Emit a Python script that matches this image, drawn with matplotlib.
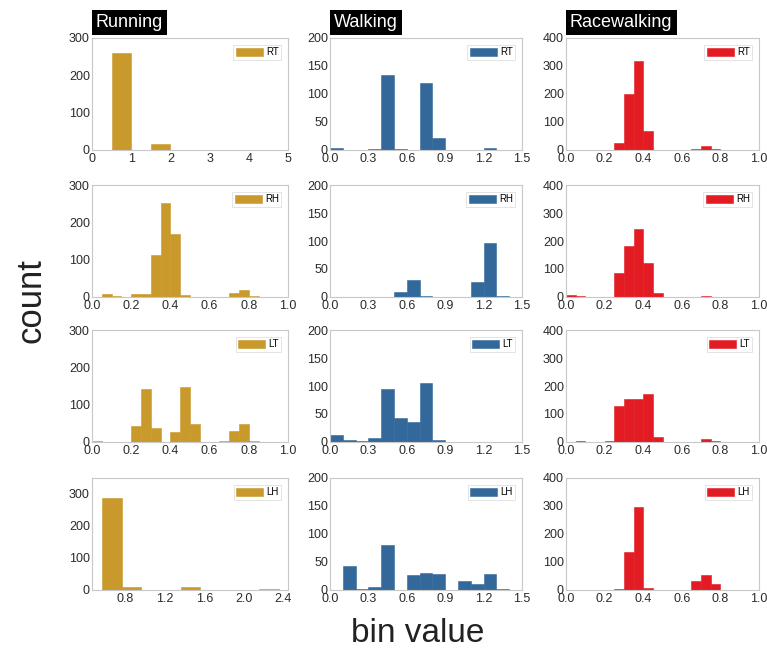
import matplotlib.pyplot as plt
import numpy as np

plt.rcParams['font.family'] = ['Liberation Sans', 'DejaVu Sans']

spine_color = '#c8c8c8'
tick_label_color = '#2b2b2b'
running_color = '#c9992b'
walking_color = '#33699a'
racewalking_color = '#e31b23'

sensors = ['RT', 'RH', 'LT', 'LH']
gaits = ['Running', 'Walking', 'Racewalking']

# counts per bin, one list per gait and sensor
running_rt = [0, 260, 1, 15, 1, 0, 1, 0, 1, 0]
running_rh = [0, 9, 2, 0, 9, 9, 112, 253, 169, 6, 1, 0, 0, 0, 11, 20, 4, 0, 0, 0]
running_lt = [2, 0, 0, 0, 43, 141, 38, 0, 28, 146, 49, 1, 0, 2, 30, 48, 4, 0, 0, 0]
running_lh = [287, 8, 0, 0, 8, 0, 0, 0, 2]

walking_rt = [3, 0, 0, 1, 134, 2, 0, 119, 22, 0, 0, 0, 3, 0, 0]
walking_rh = [0, 0, 0, 0, 0, 9, 31, 1, 0, 0, 0, 26, 97, 2, 0]
walking_lt = [13, 4, 1, 8, 94, 42, 35, 105, 3, 0, 0, 0, 0, 0, 0]
walking_lh = [0, 42, 2, 5, 81, 0, 26, 30, 29, 0, 16, 10, 29, 2, 0]

racewalking_rt = [0, 0, 0, 0, 0, 24, 200, 319, 68, 0, 0, 0, 0, 3, 16, 2, 0, 0, 0, 0]
racewalking_rh = [8, 4, 0, 0, 1, 87, 181, 243, 120, 14, 0, 0, 1, 1, 3, 1, 0, 0, 0, 0]
racewalking_lt = [0, 3, 0, 1, 2, 127, 152, 153, 173, 18, 0, 1, 0, 0, 12, 3, 0, 0, 0, 0]
racewalking_lh = [0, 0, 0, 0, 0, 2, 136, 298, 8, 0, 0, 0, 0, 33, 53, 20, 0, 0, 0, 0]

counts = {
    'Running': [running_rt, running_rh, running_lt, running_lh],
    'Walking': [walking_rt, walking_rh, walking_lt, walking_lh],
    'Racewalking': [racewalking_rt, racewalking_rh, racewalking_lt, racewalking_lh],
}

# (first bin edge, bin width) for every panel
bins = {
    'Running': [(0, 0.5), (0, 0.05), (0, 0.05), (0.56, 0.2)],
    'Walking': [(0, 0.1)] * 4,
    'Racewalking': [(0, 0.05)] * 4,
}

colors = {'Running': running_color, 'Walking': walking_color,
          'Racewalking': racewalking_color}

xlims = {
    'Running': [(0, 5), (0, 1), (0, 1), (0.46, 2.45)],
    'Walking': [(0, 1.5)] * 4,
    'Racewalking': [(0, 1)] * 4,
}
xticks = {
    'Running': [[0, 1, 2, 3, 4, 5], np.arange(0, 1.01, 0.2), np.arange(0, 1.01, 0.2),
                [0.8, 1.2, 1.6, 2.0, 2.4]],
    'Walking': [np.arange(0, 1.51, 0.3)] * 4,
    'Racewalking': [np.arange(0, 1.01, 0.2)] * 4,
}
ylims = {
    'Running': [300, 300, 300, 350],
    'Walking': [200] * 4,
    'Racewalking': [400] * 4,
}
yticks = {
    'Running': [[0, 100, 200, 300]] * 4,
    'Walking': [[0, 50, 100, 150, 200]] * 4,
    'Racewalking': [[0, 100, 200, 300, 400]] * 4,
}

W, H = 767, 653
col_x = [92, 330, 566]
col_w = [196, 192, 193]
row_y = [38, 185, 330, 478]
row_h = 112

fig = plt.figure(figsize=(W / 100, H / 100), dpi=100)

for c, gait in enumerate(gaits):
    for r, sensor in enumerate(sensors):
        ax = fig.add_axes([col_x[c] / W, 1 - (row_y[r] + row_h) / H,
                           col_w[c] / W, row_h / H])
        start, width = bins[gait][r]
        values = np.array(counts[gait][r])
        left = start + width * np.arange(len(values))
        keep = values > 0
        ax.bar(left[keep], values[keep], width=width, align='edge',
               color=colors[gait], edgecolor=colors[gait], linewidth=0.4,
               label=sensor)

        ax.set_xlim(*xlims[gait][r])
        ax.set_ylim(0, ylims[gait][r])
        ticks = xticks[gait][r]
        ax.set_xticks(ticks)
        if gait == 'Running' and r == 0:
            ax.set_xticklabels(['%d' % t for t in ticks])
        else:
            ax.set_xticklabels(['%.1f' % t for t in ticks])
        ax.set_yticks(yticks[gait][r])
        ax.tick_params(length=0, labelsize=9, colors=tick_label_color)
        ax.tick_params(axis='x', pad=2.5)
        ax.tick_params(axis='y', pad=1.5)
        for spine in ax.spines.values():
            spine.set_color(spine_color)
            spine.set_linewidth(0.8)

        leg = ax.legend(loc='upper right', fontsize=7, frameon=True, fancybox=False,
                        handlelength=2.8, handleheight=0.9, handletextpad=0.3,
                        borderpad=0.25, borderaxespad=0.7)
        leg.get_frame().set_edgecolor('#d8d8d8')
        leg.get_frame().set_linewidth(0.6)

        if r == 0:
            ax.text(0.02, 1.0625, gait, transform=ax.transAxes, fontsize=13,
                    color='white', va='bottom', ha='left',
                    bbox=dict(facecolor='black', edgecolor='none', pad=3))

fig.text(0.04, 0.54, 'count', rotation=90, fontsize=25, ha='center', va='center',
         color='#222222')
fig.text(0.545, 0.03, 'bin value', fontsize=24, ha='center', va='center',
         color='#222222')

plt.savefig('out.png', dpi=100)
